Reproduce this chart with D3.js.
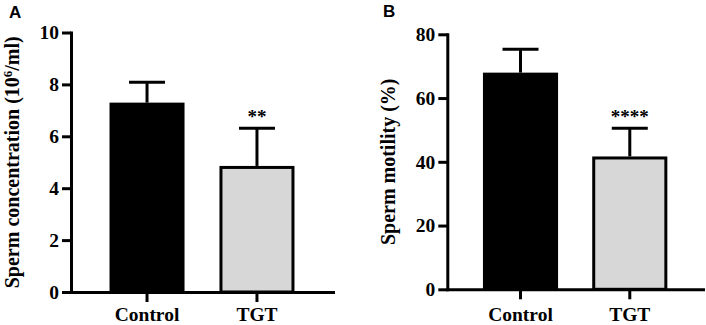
<!DOCTYPE html>
<html><head><meta charset="utf-8">
<script src="https://cdn.jsdelivr.net/npm/d3@7"></script>
<style>body{margin:0;background:#fff}svg{display:block}</style>
</head><body>
<svg id="c" width="706" height="325"></svg>
<script>
const categories = ["Control", "TGT"];
const concMean = [7.24, 4.8];
const concSD = [0.84, 1.51];
const concTicks = [0, 2, 4, 6, 8, 10];
const motMean = [67.5, 41.2];
const motSD = [7.8, 9.3];
const motTicks = [0, 20, 40, 60, 80];
const stars = ["", "**"];
const starsB = ["", "****"];
const fills = ["#000000", "#d6d7d6"];

const svg = d3.select("#c");
const serif = "'Liberation Serif','Times New Roman',serif";

function panel(o) {
  const g = svg.append("g");
  const y = d3.scaleLinear().domain([0, o.ymax]).range([o.bottom, o.top]);
  const x = d3.scaleBand().domain(categories).range([o.left, o.right])
    .paddingInner(o.pi).paddingOuter(o.po);

  g.selectAll("rect.bar").data(categories).join("rect")
    .attr("x", d => x(d)).attr("width", x.bandwidth())
    .attr("y", (d, i) => y(o.mean[i])).attr("height", (d, i) => y(0) - y(o.mean[i]))
    .attr("fill", (d, i) => fills[i]).attr("stroke", "#000").attr("stroke-width", 3);

  const cx = d => x(d) + x.bandwidth() / 2;
  g.selectAll("line.err").data(categories).join("line")
    .attr("x1", cx).attr("x2", cx)
    .attr("y1", (d, i) => y(o.mean[i]) - 1.5).attr("y2", (d, i) => y(o.mean[i] + o.sd[i]))
    .attr("stroke", "#000").attr("stroke-width", 3);
  g.selectAll("line.cap").data(categories).join("line")
    .attr("x1", d => cx(d) - 18).attr("x2", d => cx(d) + 18)
    .attr("y1", (d, i) => y(o.mean[i] + o.sd[i])).attr("y2", (d, i) => y(o.mean[i] + o.sd[i]))
    .attr("stroke", "#000").attr("stroke-width", 3);

  g.selectAll("text.star").data(categories).join("text")
    .attr("x", cx).attr("y", (d, i) => y(o.mean[i] + o.sd[i]) - 5)
    .attr("text-anchor", "middle").attr("font-family", serif).attr("font-weight", "bold")
    .attr("font-size", 19).text((d, i) => o.stars[i]);

  const ya = g.append("g").attr("transform", `translate(${o.left},0)`)
    .call(d3.axisLeft(y).tickValues(o.ticks).tickSize(9).tickSizeOuter(0).tickPadding(3));
  const xa = g.append("g").attr("transform", `translate(0,${o.bottom})`)
    .call(d3.axisBottom(x).tickSize(10).tickSizeOuter(0));
  xa.selectAll("text").attr("y", 321 - o.bottom).attr("dy", 0);
  [ya, xa].forEach(a => {
    a.select(".domain").attr("stroke-width", 3).attr("stroke-linecap", "square");
    a.selectAll(".tick line").attr("stroke-width", 3);
    a.selectAll("text").attr("font-family", serif).attr("font-weight", "bold")
      .attr("font-size", 19.5).attr("fill", "#000");
  });

  const t = g.append("text")
    .attr("transform", `translate(${o.titleX},${(o.top + o.bottom) / 2}) rotate(-90)`)
    .attr("text-anchor", "middle").attr("font-family", serif).attr("font-weight", "bold")
    .attr("font-size", o.titleSize);
  o.title.forEach(p => {
    const s = t.append("tspan").text(p.t);
    if (p.sup) s.attr("font-size", o.titleSize * 0.65).attr("dy", -7);
    if (p.down) s.attr("dy", 7);
  });

  g.append("text").attr("x", o.letterX).attr("y", o.letterY)
    .attr("font-family", "'Liberation Sans',Arial,sans-serif").attr("font-weight", "bold")
    .attr("font-size", 17).text(o.letter);
}

panel({
  left: 71, right: 333, top: 32.5, bottom: 292, ymax: 10, pi: 0.345, po: 0.364,
  mean: concMean, sd: concSD, ticks: concTicks, stars: stars,
  title: [{t: "Sperm concentration (10"}, {t: "6", sup: true}, {t: "/ml)", down: true}],
  titleX: 19, titleSize: 20, letter: "A", letterX: 9, letterY: 18
});
panel({
  left: 447.3, right: 703, top: 34.3, bottom: 289.3, ymax: 80, pi: 0.34, po: 0.34,
  mean: motMean, sd: motSD, ticks: motTicks, stars: starsB,
  title: [{t: "Sperm motility (%)"}],
  titleX: 395, titleSize: 20, letter: "B", letterX: 383, letterY: 16.5
});
</script>
</body></html>
